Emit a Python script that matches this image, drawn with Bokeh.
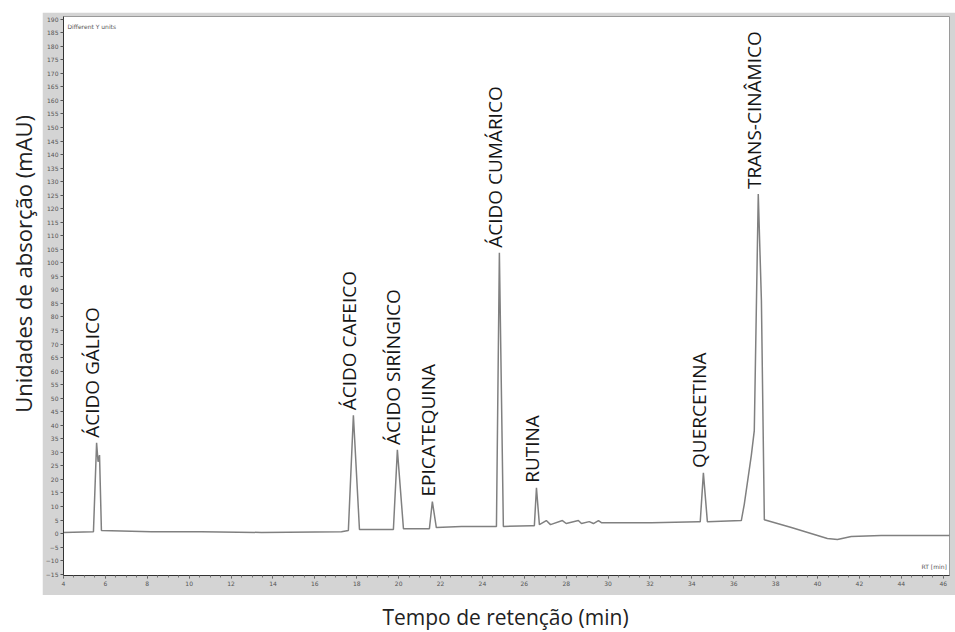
import math
from bokeh.plotting import figure
from bokeh.models import Range1d, Label, FixedTicker, Spacer, ColumnDataSource
from bokeh.layouts import column, row
from bokeh.embed import file_html
from bokeh.resources import INLINE
from bokeh.core.properties import value

# Chromatogram trace (retention time in min, absorbance in mAU)
time_min = [4.0, 5.43, 5.58, 5.65, 5.72, 5.81, 8.2, 10.59, 13.45, 17.27,
            17.6, 17.84, 18.13, 19.42, 19.75, 19.94, 20.23, 21.33,
            21.47, 21.61, 21.8, 23.0, 24.53, 24.67, 24.81, 25.0, 26.34,
            26.48, 26.58, 26.72, 27.05, 27.25, 27.82, 28.0, 28.58, 28.73,
            29.1, 29.3, 29.54, 29.68, 32.07, 34.31, 34.4, 34.55, 34.74,
            36.36, 36.5, 36.84, 36.98, 37.17, 37.32, 37.46, 38.75, 40.47,
            40.95, 41.61, 43.04, 46.4]
absorbance_mau = [0.4, 0.7, 33.5, 26.5, 29.0, 1.1, 0.7, 0.7, 0.4, 0.7,
                  1.1, 43.7, 1.5, 1.5, 1.5, 30.9, 1.8, 1.8,
                  1.8, 11.8, 2.2, 2.6, 2.6, 2.6, 103.7, 2.6, 2.9,
                  2.9, 16.9, 3.3, 4.8, 3.3, 4.8, 3.7, 4.8, 3.7,
                  4.4, 3.7, 4.8, 4.0, 4.0, 4.4, 4.4, 22.4, 4.4,
                  4.8, 10.7, 29.0, 38.0, 125.4, 86.0, 5.1, 2.2, -1.8,
                  -2.2, -1.1, -0.7, -0.7]

# Identified peaks
peak_names = ["ÁCIDO GÁLICO", "ÁCIDO CAFEICO", "ÁCIDO SIRÍNGICO", "EPICATEQUINA",
              "ÁCIDO CUMÁRICO", "RUTINA", "QUERCETINA", "TRANS-CINÂMICO"]
peak_times = [5.55, 17.84, 19.94, 21.61, 24.81, 26.58, 34.55, 37.17]
peak_heights = [33.5, 43.7, 30.9, 11.8, 103.7, 16.9, 22.4, 125.4]

x_ticks = list(range(4, 47, 2))
y_ticks = list(range(-15, 191, 5))

FRAME_GRAY = "#d4d4d4"
FONT = "Open Sans"

p = figure(width=913, height=583, output_backend="svg", toolbar_location=None,
           x_range=Range1d(4, 46.3), y_range=Range1d(-15.5, 191),
           min_border_left=20, min_border_right=6, min_border_top=4,
           min_border_bottom=20)
p.border_fill_color = FRAME_GRAY
p.background_fill_color = "white"
p.outline_line_color = "#9a9a9a"
p.xgrid.visible = False
p.ygrid.visible = False

p.line(time_min, absorbance_mau, line_color="#808080", line_width=1.5)

src = ColumnDataSource(dict(x=peak_times, y=peak_heights, t=peak_names))
p.text(x="x", y="y", text="t", source=src, angle=math.pi / 2,
       text_align="left", text_baseline="middle", x_offset=-4, y_offset=-5,
       text_font=value(FONT), text_font_size="19px", text_color="#151515")

for ax in (p.xaxis[0], p.yaxis[0]):
    ax.axis_line_color = "#333333"
    ax.major_tick_line_color = "#555555"
    ax.minor_tick_line_color = "#777777"
    ax.major_tick_in = 0
    ax.major_tick_out = 3
    ax.minor_tick_in = 0
    ax.minor_tick_out = 2
    ax.major_label_text_font_size = "6px"
    ax.major_label_text_color = "#555555"
    ax.major_label_standoff = 2
    ax.major_label_text_font = "DejaVu Sans"

p.xaxis.ticker = FixedTicker(ticks=x_ticks,
                             minor_ticks=[x_ticks[0] + 0.5 * i for i in range(0, 85)])
p.yaxis.ticker = FixedTicker(ticks=y_ticks)
p.yaxis.minor_tick_line_color = None

p.add_layout(Label(x=4, y=546, x_units="screen", y_units="screen", text="Different Y units",
                   text_font_size="6px", text_color="#555555", text_font="DejaVu Sans"))
p.add_layout(Label(x=858, y=6, x_units="screen", y_units="screen", text="RT [min]",
                   text_font_size="6px", text_color="#555555", text_font="DejaVu Sans"))

# y-axis title panel
yt = figure(width=42, height=583, output_backend="svg", toolbar_location=None,
            x_range=Range1d(0, 42), y_range=Range1d(0, 583),
            min_border=0)
yt.axis.visible = False
yt.grid.visible = False
yt.outline_line_color = None
yt.add_layout(Label(x=22, y=325, text="Unidades de absorção (mAU)", angle=math.pi / 2,
                    text_align="center", text_baseline="middle", text_font=FONT,
                    text_font_size="22px", text_color="#222222"))

# x-axis title panel
xt = figure(width=955, height=37, output_backend="svg", toolbar_location=None,
            x_range=Range1d(0, 955), y_range=Range1d(0, 37), min_border=0)
xt.axis.visible = False
xt.grid.visible = False
xt.outline_line_color = None
xt.add_layout(Label(x=505, y=16, text="Tempo de retenção (min)", text_align="center",
                    text_baseline="middle", text_font=FONT, text_font_size="21px",
                    text_color="#222222"))

layout = column(Spacer(width=955, height=12), row(yt, p), xt)

open("out.html", "w").write(file_html(layout, INLINE))
